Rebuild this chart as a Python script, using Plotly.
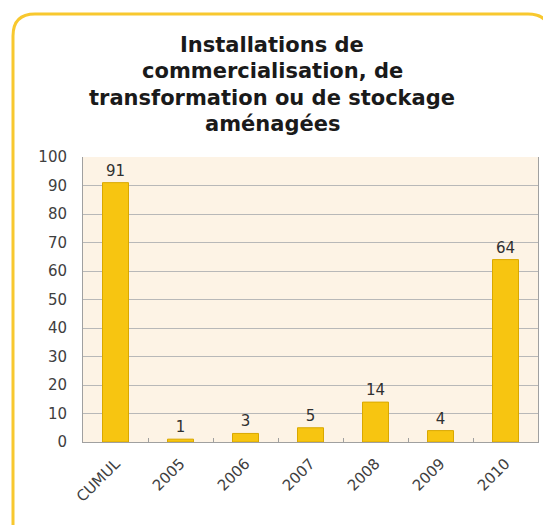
import plotly.graph_objects as go

categories = ["CUMUL", "2005", "2006", "2007", "2008", "2009", "2010"]
values = [91, 1, 3, 5, 14, 4, 64]
y_ticks = [0, 10, 20, 30, 40, 50, 60, 70, 80, 90, 100]
title_lines = ["Installations de", "commercialisation, de",
               "transformation ou de stockage", "aménagées"]

# the page adds an 8px body margin, so the figure is 8px smaller than the window
W, H = 543, 517
ml, mr, mt, mb = 75, 13, 149, 83
pw, ph = W - ml - mr, H - mt - mb
def px(x): return (x - ml) / pw
def py(y): return (H - mb - y) / ph

FONT = "DejaVu Sans, Liberation Sans, Arial"

fig = go.Figure()
fig.add_trace(go.Bar(
    x=categories, y=values,
    text=[str(v) for v in values], textposition="outside",
    textfont=dict(family=FONT, size=15, color="#303030"),
    marker=dict(color="#F7C511", line=dict(color="#D9A800", width=1)),
    cliponaxis=False,
))

annotations = []
for i, line in enumerate(title_lines):
    annotations.append(dict(
        text=f"<b>{line}</b>", xref="paper", yref="paper",
        x=px(264), y=py(37 + 26.3 * i), xanchor="center", yanchor="middle",
        showarrow=False,
        font=dict(family=FONT, size=21, color="#1a1a1a"),
    ))

r = 22
x0, y0, x1, y1 = 5, 6, 542, 540
path = (f"M {px(x0)},{py(y1)} L {px(x0)},{py(y0 + r)} "
        f"Q {px(x0)},{py(y0)} {px(x0 + r)},{py(y0)} "
        f"L {px(x1 - r)},{py(y0)} Q {px(x1)},{py(y0)} {px(x1)},{py(y0 + r)} "
        f"L {px(x1)},{py(y1)}")

fig.update_layout(
    width=W, height=H,
    margin=dict(l=ml, r=mr, t=mt, b=mb),
    paper_bgcolor="white",
    plot_bgcolor="#FDF3E5",
    bargap=0.6,
    showlegend=False,
    annotations=annotations,
    shapes=[dict(type="path", xref="paper", yref="paper", path=path,
                 line=dict(color="#F8C82E", width=3), layer="above")],
    xaxis=dict(
        type="category", tickangle=-45, automargin=False,
        tickfont=dict(family=FONT, size=15, color="#404040"),
        ticklabelstandoff=6,
        showline=True, linecolor="#A0A0A0", linewidth=1,
        ticks="inside", tickson="boundaries", ticklen=4, tickcolor="#A0A0A0",
        showgrid=False,
    ),
    yaxis=dict(
        range=[0, 100], tickvals=y_ticks, automargin=False,
        tickfont=dict(family=FONT, size=15, color="#404040"),
        ticklabelstandoff=12,
        showline=True, linecolor="#A0A0A0", linewidth=1, mirror=True,
        gridcolor="#B8B8B8", gridwidth=1,
        ticks="", zeroline=False,
    ),
)

fig.write_html("out.html")
